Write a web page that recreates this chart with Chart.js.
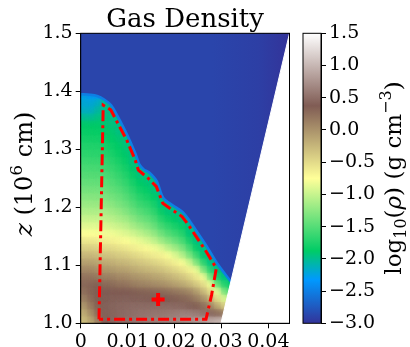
<!DOCTYPE html>
<html lang="en">
<head>
<meta charset="UTF-8" />
<title>Gas Density</title>
<script src="https://cdn.jsdelivr.net/npm/chart.js"></script>
<style>
  body { margin: 0; background: #fff; width: 410px; height: 347px; position: relative; overflow: hidden; }
  #mainChart { position: absolute; left: 0; top: 0; }
  #barChart { position: absolute; left: 295px; top: 0; }
</style>
</head>
<body>
<canvas id="mainChart" width="300" height="347"></canvas>
<canvas id="barChart" width="115" height="347"></canvas>
<script>
// grid cell centres (x, and z in 10^6 cm)
const xCenters = [0.00075, 0.00225, 0.00375, 0.00525, 0.00675, 0.00825, 0.00975, 0.01125, 0.01275, 0.01425,
  0.01575, 0.01725, 0.01875, 0.02025, 0.02175, 0.02325, 0.02475, 0.02625, 0.02775, 0.02925,
  0.03075, 0.03225, 0.03375, 0.03525, 0.03675, 0.03825, 0.03975, 0.04125, 0.04275, 0.04425];
const zCenters = [1.00625, 1.01875, 1.03125, 1.04375, 1.05625, 1.06875, 1.08125, 1.09375, 1.10625, 1.11875,
  1.13125, 1.14375, 1.15625, 1.16875, 1.18125, 1.19375, 1.20625, 1.21875, 1.23125, 1.24375,
  1.25625, 1.26875, 1.28125, 1.29375, 1.30625, 1.31875, 1.33125, 1.34375, 1.35625, 1.36875,
  1.38125, 1.39375, 1.40625, 1.41875, 1.43125, 1.44375, 1.45625, 1.46875, 1.48125, 1.49375];

// log10(rho), one row per z (row 0 = bottom), rows stop at the wedge edge
const logRho = [
  [-0.3, -0.15, 0.1, 0.4, 0.45, 0.5, 0.52, 0.55, 0.57, 0.6, 0.62, 0.63, 0.65, 0.68, 0.72, 0.75, 0.8, 0.85, 0.95, 1.0, 1.1],
  [-0.2, 0.0, 0.25, 0.42, 0.45, 0.48, 0.5, 0.52, 0.55, 0.56, 0.57, 0.58, 0.6, 0.62, 0.65, 0.65, 0.62, 0.55, 0.45, 0.3, 0.2],
  [-0.05, 0.15, 0.32, 0.42, 0.45, 0.47, 0.48, 0.5, 0.5, 0.5, 0.5, 0.5, 0.5, 0.48, 0.47, 0.42, 0.35, 0.25, 0.1, -0.15, -0.4],
  [0.1, 0.25, 0.35, 0.4, 0.42, 0.43, 0.44, 0.42, 0.42, 0.41, 0.4, 0.39, 0.36, 0.34, 0.3, 0.25, 0.15, 0.0, -0.2, -0.5, -0.9],
  [0.22, 0.3, 0.35, 0.38, 0.38, 0.37, 0.38, 0.35, 0.33, 0.31, 0.3, 0.28, 0.24, 0.2, 0.15, 0.08, -0.05, -0.25, -0.5, -0.8, -1.3, -1.6],
  [0.28, 0.3, 0.33, 0.27, 0.26, 0.21, 0.2, 0.14, 0.1, 0.08, 0.04, 0.01, -0.04, -0.1, -0.16, -0.25, -0.37, -0.52, -0.78, -1.42, -1.7, -1.9],
  [0.2, 0.2, 0.17, 0.12, 0.12, 0.06, 0.05, -0.01, -0.04, -0.07, -0.12, -0.15, -0.21, -0.28, -0.35, -0.45, -0.59, -0.76, -1.32, -1.75, -1.95, -2.0],
  [0.06, 0.06, 0.01, -0.04, -0.05, -0.1, -0.11, -0.17, -0.21, -0.25, -0.29, -0.33, -0.4, -0.47, -0.55, -0.67, -0.8, -1.28, -1.69, -1.97, -2.0, -2.75],
  [-0.1, -0.1, -0.14, -0.18, -0.2, -0.25, -0.26, -0.32, -0.36, -0.4, -0.45, -0.5, -0.57, -0.65, -0.74, -0.92, -1.27, -1.65, -1.95, -2.0, -2.95, -2.95, -3.0],
  [-0.26, -0.26, -0.3, -0.34, -0.35, -0.4, -0.42, -0.48, -0.52, -0.57, -0.63, -0.67, -0.76, -0.88, -1.04, -1.3, -1.59, -1.91, -1.98, -2.9, -2.95, -2.95, -3.0],
  [-0.42, -0.42, -0.45, -0.49, -0.5, -0.54, -0.58, -0.63, -0.68, -0.72, -0.79, -0.86, -1.02, -1.15, -1.3, -1.55, -1.83, -1.97, -2.0, -2.9, -2.9, -2.95, -3.0],
  [-0.59, -0.59, -0.61, -0.64, -0.66, -0.7, -0.74, -0.79, -0.84, -0.91, -1.0, -1.15, -1.28, -1.4, -1.53, -1.76, -1.95, -2.0, -2.9, -2.9, -2.9, -2.95, -3.0],
  [-0.75, -0.75, -0.76, -0.79, -0.8, -0.84, -0.88, -0.94, -1.02, -1.1, -1.2, -1.36, -1.49, -1.59, -1.69, -1.92, -1.98, -2.9, -2.9, -2.9, -2.9, -2.9, -2.95, -3.0],
  [-0.87, -0.87, -0.87, -0.9, -0.93, -0.97, -1.02, -1.12, -1.2, -1.28, -1.39, -1.55, -1.66, -1.75, -1.84, -1.97, -2.0, -2.9, -2.9, -2.9, -2.9, -2.9, -2.95, -3.0],
  [-0.98, -0.98, -0.98, -1.01, -1.04, -1.1, -1.15, -1.25, -1.36, -1.42, -1.52, -1.69, -1.81, -1.88, -1.95, -2.0, -2.9, -2.9, -2.9, -2.9, -2.9, -2.9, -2.95, -3.0],
  [-1.09, -1.09, -1.09, -1.11, -1.15, -1.2, -1.28, -1.39, -1.48, -1.55, -1.65, -1.82, -1.92, -1.96, -2.0, -2.9, -2.9, -2.9, -2.9, -2.9, -2.9, -2.9, -2.95, -3.0],
  [-1.18, -1.18, -1.18, -1.21, -1.25, -1.32, -1.38, -1.49, -1.6, -1.65, -1.75, -1.93, -1.97, -2.0, -2.8, -2.9, -2.9, -2.9, -2.9, -2.9, -2.9, -2.9, -2.9, -2.95, -3.0],
  [-1.27, -1.27, -1.27, -1.3, -1.35, -1.4, -1.48, -1.59, -1.7, -1.76, -1.86, -1.96, -2.0, -2.9, -2.9, -2.9, -2.9, -2.9, -2.9, -2.9, -2.9, -2.9, -2.9, -2.95, -3.0],
  [-1.35, -1.35, -1.35, -1.39, -1.43, -1.48, -1.56, -1.67, -1.79, -1.84, -1.94, -1.98, -2.9, -2.9, -2.9, -2.9, -2.9, -2.9, -2.9, -2.9, -2.9, -2.9, -2.9, -2.95, -3.0],
  [-1.42, -1.42, -1.42, -1.46, -1.5, -1.56, -1.64, -1.76, -1.87, -1.91, -1.97, -2.0, -2.9, -2.9, -2.9, -2.9, -2.9, -2.9, -2.9, -2.9, -2.9, -2.9, -2.9, -2.95, -3.0],
  [-1.49, -1.49, -1.49, -1.53, -1.56, -1.63, -1.71, -1.83, -1.94, -1.96, -2.0, -2.9, -2.9, -2.9, -2.9, -2.9, -2.9, -2.9, -2.9, -2.9, -2.9, -2.9, -2.9, -2.95, -3.0],
  [-1.55, -1.55, -1.55, -1.6, -1.63, -1.7, -1.78, -1.9, -1.98, -2.0, -2.9, -2.9, -2.9, -2.9, -2.9, -2.9, -2.9, -2.9, -2.9, -2.9, -2.9, -2.9, -2.9, -2.9, -2.95, -3.0],
  [-1.61, -1.61, -1.61, -1.65, -1.69, -1.76, -1.84, -1.96, -2.0, -2.9, -2.9, -2.9, -2.9, -2.9, -2.9, -2.9, -2.9, -2.9, -2.9, -2.9, -2.9, -2.9, -2.9, -2.9, -2.95, -3.0],
  [-1.67, -1.67, -1.67, -1.71, -1.75, -1.82, -1.89, -1.97, -2.9, -2.9, -2.9, -2.9, -2.9, -2.9, -2.9, -2.9, -2.9, -2.9, -2.9, -2.9, -2.9, -2.9, -2.9, -2.9, -2.95, -3.0],
  [-1.72, -1.72, -1.72, -1.76, -1.81, -1.86, -1.94, -1.98, -2.9, -2.9, -2.9, -2.9, -2.9, -2.9, -2.9, -2.9, -2.9, -2.9, -2.9, -2.9, -2.9, -2.9, -2.9, -2.9, -2.95, -3.0],
  [-1.78, -1.78, -1.78, -1.82, -1.86, -1.91, -1.96, -2.0, -2.9, -2.9, -2.9, -2.9, -2.9, -2.9, -2.9, -2.9, -2.9, -2.9, -2.9, -2.9, -2.9, -2.9, -2.9, -2.9, -2.9, -2.95, -3.0],
  [-1.83, -1.83, -1.83, -1.87, -1.9, -1.96, -1.98, -2.9, -2.9, -2.9, -2.9, -2.9, -2.9, -2.9, -2.9, -2.9, -2.9, -2.9, -2.9, -2.9, -2.9, -2.9, -2.9, -2.9, -2.9, -2.95, -3.0],
  [-1.88, -1.88, -1.88, -1.91, -1.94, -1.97, -2.0, -2.9, -2.9, -2.9, -2.9, -2.9, -2.9, -2.9, -2.9, -2.9, -2.9, -2.9, -2.9, -2.9, -2.9, -2.9, -2.9, -2.9, -2.9, -2.95, -3.0],
  [-2.0, -2.0, -1.95, -1.94, -1.98, -2.0, -2.9, -2.9, -2.9, -2.9, -2.9, -2.9, -2.9, -2.9, -2.9, -2.9, -2.9, -2.9, -2.9, -2.9, -2.9, -2.9, -2.9, -2.9, -2.9, -2.95, -3.0],
  [-2.15, -2.15, -2.05, -1.98, -2.0, -2.9, -2.9, -2.9, -2.9, -2.9, -2.9, -2.9, -2.9, -2.9, -2.9, -2.9, -2.9, -2.9, -2.9, -2.9, -2.9, -2.9, -2.9, -2.9, -2.9, -2.9, -2.95, -3.0],
  [-2.2, -2.2, -2.15, -2.0, -2.0, -2.9, -2.9, -2.9, -2.9, -2.9, -2.9, -2.9, -2.9, -2.9, -2.9, -2.9, -2.9, -2.9, -2.9, -2.9, -2.9, -2.9, -2.9, -2.9, -2.9, -2.9, -2.95, -3.0],
  [-2.25, -2.3, -2.3, -2.1, -2.9, -2.9, -2.9, -2.9, -2.9, -2.9, -2.9, -2.9, -2.9, -2.9, -2.9, -2.9, -2.9, -2.9, -2.9, -2.9, -2.9, -2.9, -2.9, -2.9, -2.9, -2.9, -2.95, -3.0],
  [-2.85, -2.85, -2.9, -2.9, -2.9, -2.9, -2.9, -2.9, -2.9, -2.9, -2.9, -2.9, -2.9, -2.9, -2.9, -2.9, -2.9, -2.9, -2.9, -2.9, -2.9, -2.9, -2.9, -2.9, -2.9, -2.9, -2.95, -3.0],
  [-2.9, -2.9, -2.9, -2.9, -2.9, -2.9, -2.9, -2.9, -2.9, -2.9, -2.9, -2.9, -2.9, -2.9, -2.9, -2.9, -2.9, -2.9, -2.9, -2.9, -2.9, -2.9, -2.9, -2.9, -2.9, -2.9, -2.9, -2.95, -3.0],
  [-2.9, -2.9, -2.9, -2.9, -2.9, -2.9, -2.9, -2.9, -2.9, -2.9, -2.9, -2.9, -2.9, -2.9, -2.9, -2.9, -2.9, -2.9, -2.9, -2.9, -2.9, -2.9, -2.9, -2.9, -2.9, -2.9, -2.9, -2.95, -3.0],
  [-2.9, -2.9, -2.9, -2.9, -2.9, -2.9, -2.9, -2.9, -2.9, -2.9, -2.9, -2.9, -2.9, -2.9, -2.9, -2.9, -2.9, -2.9, -2.9, -2.9, -2.9, -2.9, -2.9, -2.9, -2.9, -2.9, -2.9, -2.95, -3.0],
  [-2.9, -2.9, -2.9, -2.9, -2.9, -2.9, -2.9, -2.9, -2.9, -2.9, -2.9, -2.9, -2.9, -2.9, -2.9, -2.9, -2.9, -2.9, -2.9, -2.9, -2.9, -2.9, -2.9, -2.9, -2.9, -2.9, -2.9, -2.95, -3.0],
  [-2.9, -2.9, -2.9, -2.9, -2.9, -2.9, -2.9, -2.9, -2.9, -2.9, -2.9, -2.9, -2.9, -2.9, -2.9, -2.9, -2.9, -2.9, -2.9, -2.9, -2.9, -2.9, -2.9, -2.9, -2.9, -2.9, -2.9, -2.9, -2.95, -3.0],
  [-2.9, -2.9, -2.9, -2.9, -2.9, -2.9, -2.9, -2.9, -2.9, -2.9, -2.9, -2.9, -2.9, -2.9, -2.9, -2.9, -2.9, -2.9, -2.9, -2.9, -2.9, -2.9, -2.9, -2.9, -2.9, -2.9, -2.9, -2.9, -2.95, -3.0],
  [-2.9, -2.9, -2.9, -2.9, -2.9, -2.9, -2.9, -2.9, -2.9, -2.9, -2.9, -2.9, -2.9, -2.9, -2.9, -2.9, -2.9, -2.9, -2.9, -2.9, -2.9, -2.9, -2.9, -2.9, -2.9, -2.9, -2.9, -2.9, -2.95, -3.0]
];

// top edge of the dense gas (sharp drop to the blue atmosphere)
const edgeX = [0, 0.002, 0.0035, 0.005, 0.0065, 0.0078, 0.0099, 0.0117, 0.0125, 0.0135, 0.0146, 0.0162, 0.0176, 0.0197, 0.0217, 0.0232, 0.0246, 0.0270, 0.0291, 0.0320, 0.0350, 0.0445];
const edgeZ = [1.395, 1.394, 1.392, 1.386, 1.376, 1.358, 1.325, 1.292, 1.274, 1.265, 1.260, 1.245, 1.216, 1.203, 1.192, 1.177, 1.160, 1.131, 1.103, 1.072, 1.040, 1.000];

// red dash-dot region and the cross marker
const outlineX = [0.0039, 0.0048, 0.0064, 0.0077, 0.0098, 0.0116, 0.0123, 0.0144, 0.0161, 0.0175, 0.0196, 0.0216, 0.0230, 0.0244, 0.0268, 0.0289, 0.0279, 0.0267, 0.0039];
const outlineZ = [1.007, 1.376, 1.368, 1.348, 1.316, 1.282, 1.264, 1.250, 1.236, 1.207, 1.195, 1.184, 1.169, 1.152, 1.123, 1.095, 1.049, 1.007, 1.007];
const peakX = [0.0165];
const peakZ = [1.041];

// edge of the simulated wedge (white beyond it)
const wedgeX = [0.0299, 0.0445];
const wedgeZ = [1.0, 1.5];

const xTicks = [0, 0.01, 0.02, 0.03, 0.04];
const zTicks = [1.0, 1.1, 1.2, 1.3, 1.4, 1.5];
const cbarTicks = [-3.0, -2.5, -2.0, -1.5, -1.0, -0.5, 0.0, 0.5, 1.0, 1.5];
const vMin = -3.0, vMax = 1.5;

// matplotlib "terrain"
const terrain = [
  [0.00, 51, 51, 153],
  [0.15, 0, 153, 255],
  [0.25, 0, 204, 102],
  [0.50, 255, 255, 153],
  [0.75, 128, 92, 84],
  [1.00, 255, 255, 255]
];

function colorFor(v) {
  const t = Math.min(1, Math.max(0, (v - vMin) / (vMax - vMin)));
  for (let k = 1; k < terrain.length; k++) {
    if (t <= terrain[k][0]) {
      const a = terrain[k - 1], b = terrain[k];
      const f = (t - a[0]) / (b[0] - a[0]);
      const c = [1, 2, 3].map(n => Math.round(a[n] + (b[n] - a[n]) * f));
      return `rgb(${c[0]},${c[1]},${c[2]})`;
    }
  }
  return '#fff';
}

const cells = [];
logRho.forEach((row, j) => row.forEach((v, i) => cells.push({ x: xCenters[i], y: zCenters[j], v: v })));

const serif = "'DejaVu Serif', serif";
const tickFont = { family: serif, size: 19 };

function cellRadius(ctx) {
  const { x, y } = ctx.chart.scales;
  const w = Math.abs(x.getPixelForValue(xCenters[1]) - x.getPixelForValue(xCenters[0]));
  const h = Math.abs(y.getPixelForValue(zCenters[1]) - y.getPixelForValue(zCenters[0]));
  return (Math.max(w, h) + 0.9) / Math.SQRT2;
}

const cellColor = ctx => ctx.raw ? colorFor(ctx.raw.v) : '#000';

// blue atmosphere above the edge, a bit darker towards the wedge side
function atmosphereFill(ctx) {
  const x = ctx.chart.scales.x;
  if (!ctx.chart.chartArea || !x) return colorFor(-2.9);
  const p0 = x.getPixelForValue(0.028), p1 = x.getPixelForValue(0.0445);
  if (!isFinite(p0) || !isFinite(p1)) return colorFor(-2.9);
  const g = ctx.chart.ctx.createLinearGradient(p0, 0, p1, 0);
  g.addColorStop(0, colorFor(-2.88));
  g.addColorStop(0.6, colorFor(-2.92));
  g.addColorStop(1, colorFor(-3.0));
  return g;
}

const framePlugin = {
  id: 'frame',
  afterDraw(chart) {
    const { ctx, chartArea: a } = chart;
    ctx.save();
    ctx.strokeStyle = '#000';
    ctx.lineWidth = 1;
    ctx.strokeRect(a.left, a.top, a.right - a.left, a.bottom - a.top);
    ctx.restore();
  }
};

// soft copy of the cells drawn over the crisp one (shading like imshow)
const softCells = {
  id: 'softCells',
  beforeDatasetDraw(chart, args) {
    if (chart.data.datasets[args.index].soft) {
      chart.ctx.save();
      chart.ctx.filter = 'blur(3px)';
    }
  },
  afterDatasetDraw(chart, args) {
    if (chart.data.datasets[args.index].soft) chart.ctx.restore();
  }
};

// rotated label made of pieces (for sub/superscripts)
function drawRotated(ctx, parts, baseX, centerY) {
  ctx.save();
  ctx.translate(baseX, centerY);
  ctx.rotate(-Math.PI / 2);
  ctx.textAlign = 'left';
  ctx.textBaseline = 'alphabetic';
  ctx.fillStyle = '#000';
  let total = 0;
  parts.forEach(p => { ctx.font = p.font; total += ctx.measureText(p.text).width; });
  let pos = -total / 2;
  parts.forEach(p => {
    ctx.font = p.font;
    ctx.fillText(p.text, pos, p.dy || 0);
    pos += ctx.measureText(p.text).width;
  });
  ctx.restore();
}

const mainText = {
  id: 'mainText',
  afterDraw(chart) {
    const { ctx, chartArea: a } = chart;
    ctx.save();
    ctx.fillStyle = '#000';
    ctx.font = `26px ${serif}`;
    ctx.textAlign = 'center';
    ctx.textBaseline = 'alphabetic';
    ctx.fillText('Gas Density', (a.left + a.right) / 2, 27);
    ctx.restore();
    drawRotated(ctx, [
      { text: 'z', font: `italic 25px ${serif}` },
      { text: ' (10', font: `24px ${serif}` },
      { text: '6', font: `17px ${serif}`, dy: -10 },
      { text: ' cm)', font: `24px ${serif}` }
    ], 32, 174);
  }
};

const cbarText = {
  id: 'cbarText',
  afterDraw(chart) {
    drawRotated(chart.ctx, [
      { text: 'log', font: `23px ${serif}` },
      { text: '10', font: `16px ${serif}`, dy: 5 },
      { text: '(', font: `23px ${serif}` },
      { text: 'ρ', font: `italic 23px ${serif}` },
      { text: ') (g cm', font: `23px ${serif}` },
      { text: '\u22123', font: `16px ${serif}`, dy: -10 },
      { text: ')', font: `23px ${serif}` }
    ], 106, 178);
  }
};

new Chart(document.getElementById('mainChart'), {
  type: 'scatter',
  data: {
    datasets: [
      {
        data: peakX.map((x, i) => ({ x: x, y: peakZ[i] })),
        pointStyle: 'cross',
        pointRadius: 6.5,
        pointBorderWidth: 4,
        pointBorderColor: '#ff0000'
      },
      {
        data: outlineX.map((x, i) => ({ x: x, y: outlineZ[i] })),
        showLine: true,
        borderColor: '#ff0000',
        borderWidth: 3,
        borderDash: [11, 4, 3, 4],
        pointRadius: 0,
        fill: false
      },
      {
        data: wedgeX.map((x, i) => ({ x: x, y: wedgeZ[i] })),
        showLine: true,
        borderColor: '#fff',
        borderWidth: 1,
        backgroundColor: '#fff',
        pointRadius: 0,
        fill: 'start'
      },
      {
        data: edgeX.map((x, i) => ({ x: x, y: edgeZ[i] })),
        showLine: true,
        tension: 0.3,
        borderColor: colorFor(-2.5),
        borderWidth: 2.5,
        backgroundColor: atmosphereFill,
        pointRadius: 0,
        fill: 'end'
      },
      {
        soft: true,
        data: cells,
        pointStyle: 'rect',
        pointRadius: cellRadius,
        pointBorderWidth: 0,
        pointBackgroundColor: cellColor,
        clip: 0
      },
      {
        data: cells,
        pointStyle: 'rect',
        pointRadius: cellRadius,
        pointBorderWidth: 0,
        pointBackgroundColor: cellColor,
        clip: 0
      }
    ]
  },
  options: {
    responsive: false,
    animation: false,
    events: [],
    layout: { padding: { left: 0, top: 33.3, right: 5, bottom: 0 } },
    plugins: { legend: { display: false }, tooltip: { enabled: false } },
    scales: {
      x: {
        type: 'linear',
        min: 0,
        max: 0.0445,
        afterBuildTicks: s => { s.ticks = xTicks.map(v => ({ value: v })); },
        afterFit: s => { s.height = 23.7; },
        ticks: {
          font: tickFont, color: '#000', padding: 2, maxRotation: 0, autoSkip: false,
          callback: v => v === 0 ? '0' : v.toFixed(2)
        },
        grid: { drawOnChartArea: false, tickLength: 5, color: '#000' },
        border: { color: '#000' }
      },
      y: {
        type: 'linear',
        min: 1.0,
        max: 1.5,
        afterBuildTicks: s => { s.ticks = zTicks.map(v => ({ value: v })); },
        afterFit: s => { s.width = 80.7; },
        ticks: { font: tickFont, color: '#000', padding: 3, autoSkip: false, callback: v => v.toFixed(1) },
        grid: { drawOnChartArea: false, tickLength: 5, color: '#000' },
        border: { color: '#000' }
      }
    }
  },
  plugins: [framePlugin, softCells, mainText]
});

new Chart(document.getElementById('barChart'), {
  type: 'bar',
  data: {
    labels: [''],
    datasets: [{
      data: [[vMin, vMax]],
      barPercentage: 1,
      categoryPercentage: 1,
      borderWidth: 0,
      backgroundColor: ctx => {
        const y = ctx.chart.scales.y;
        if (!ctx.chart.chartArea || !y) return '#888';
        const y0 = y.getPixelForValue(vMin), y1 = y.getPixelForValue(vMax);
        if (!isFinite(y0) || !isFinite(y1)) return '#888';
        const g = ctx.chart.ctx.createLinearGradient(0, y0, 0, y1);
        terrain.forEach(s => g.addColorStop(s[0], `rgb(${s[1]},${s[2]},${s[3]})`));
        return g;
      }
    }]
  },
  options: {
    responsive: false,
    animation: false,
    events: [],
    layout: { padding: { left: 8, top: 33.3, right: 0, bottom: 23.7 } },
    plugins: { legend: { display: false }, tooltip: { enabled: false } },
    scales: {
      x: { display: false },
      y: {
        position: 'right',
        min: vMin,
        max: vMax,
        afterBuildTicks: s => { s.ticks = cbarTicks.map(v => ({ value: v })); },
        afterFit: s => { s.width = 89; },
        ticks: { font: tickFont, color: '#000', padding: 3, autoSkip: false, callback: v => v.toFixed(1).replace('-', '\u2212') },
        grid: { drawOnChartArea: false, tickLength: 5, color: '#000' },
        border: { color: '#000' }
      }
    }
  },
  plugins: [framePlugin, cbarText]
});
</script>
</body>
</html>
